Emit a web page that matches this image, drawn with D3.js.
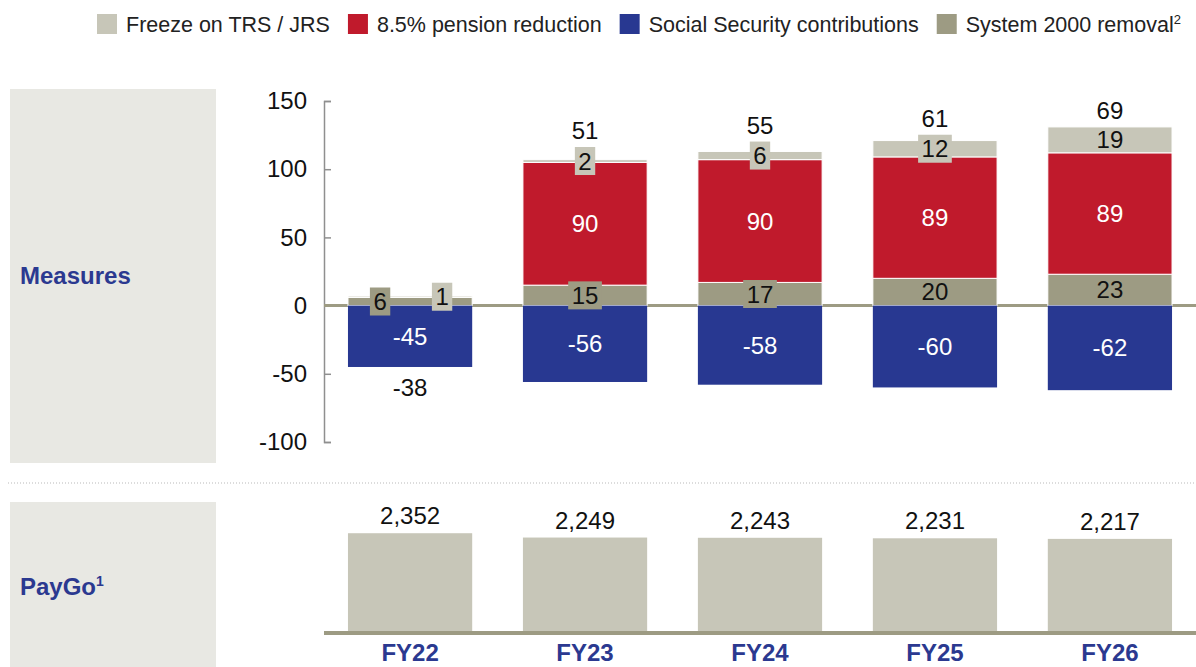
<!DOCTYPE html>
<html>
<head>
<meta charset="utf-8">
<script src="https://cdn.jsdelivr.net/npm/d3@7"></script>
<style>
  html, body { margin: 0; padding: 0; background: #fff; }
  svg { display: block; font-family: "Liberation Sans", Arial, sans-serif; }
</style>
</head>
<body>
<svg id="chart" width="1196" height="667"></svg>
<script>
// Fiscal years shown on the x axis
const categories = ["FY22", "FY23", "FY24", "FY25", "FY26"];

// Measures (stacked): positive pieces stack upward, social security goes below zero
const system2000 = [6, 15, 17, 20, 23];
const pensionCut = [0, 90, 90, 89, 89];
const freeze = [1, 2, 6, 12, 19];
const socialSecurity = [-45, -56, -58, -60, -62];
const measureTotals = [-38, 51, 55, 61, 69];

// PayGo amounts
const paygo = [2352, 2249, 2243, 2231, 2217];

// Axis ticks for the measures panel
const yTicks = [150, 100, 50, 0, -50, -100];

// Legend entries (order as drawn)
const legendLabels = ["Freeze on TRS / JRS", "8.5% pension reduction", "Social Security contributions", "System 2000 removal"];

const colors = {
  freeze: "#c7c6b8",
  pension: "#c01a2c",
  social: "#283891",
  system: "#9d9b83",
  panel: "#e8e8e3",
  label: "#2b3990",
  axis: "#8f8f8f"
};

// plain hyphen for negatives
const fmt = v => String(v);

const svg = d3.select("#chart");

// ---------- layout ----------
const plotLeft = 324, plotRight = 1196;
const x = d3.scaleBand().domain(categories).range([plotLeft, plotRight])
  .paddingInner(0.29).paddingOuter(0.137);

const y = d3.scaleLinear().domain([-100, 150]).range([442, 101]);
const yPay = d3.scaleLinear().domain([0, 2500]).range([632, 527]);

// ---------- side panels ----------
svg.append("rect").attr("x", 10).attr("y", 89).attr("width", 206).attr("height", 374).attr("fill", colors.panel);
svg.append("rect").attr("x", 10).attr("y", 502).attr("width", 206).attr("height", 170).attr("fill", colors.panel);

svg.append("text").attr("x", 20).attr("y", 284)
  .attr("font-size", 24).attr("font-weight", "bold").attr("fill", colors.label).text("Measures");
const pg = svg.append("text").attr("x", 20).attr("y", 595)
  .attr("font-size", 24).attr("font-weight", "bold").attr("fill", colors.label);
pg.append("tspan").text("PayGo");
pg.append("tspan").attr("font-size", 14).attr("dy", -9).text("1");

// dotted separator between panels
svg.append("line").attr("x1", 8).attr("x2", 1196).attr("y1", 483).attr("y2", 483)
  .attr("stroke", "#b9b9b9").attr("stroke-width", 1).attr("stroke-dasharray", "1,2");

// ---------- legend ----------
const legendColors = [colors.freeze, colors.pension, colors.social, colors.system];
const legend = svg.append("g");
let lx = 97;
legendLabels.forEach((lab, i) => {
  legend.append("rect").attr("x", lx).attr("y", 14).attr("width", 20).attr("height", 20).attr("fill", legendColors[i]);
  const t = legend.append("text").attr("x", lx + 29).attr("y", 32)
    .attr("font-size", 21.5).attr("fill", "#222").text(lab);
  if (i === 3) t.append("tspan").attr("font-size", 13).attr("dy", -8).text("2");
  lx += 29 + t.node().getComputedTextLength() + 18;
});

// ---------- y axis ----------
const yAxis = d3.axisLeft(y).tickValues(yTicks).tickSizeInner(-7).tickSizeOuter(-7).tickPadding(17)
  .tickFormat(fmt);
const gy = svg.append("g").attr("transform", `translate(${plotLeft},0)`).call(yAxis);
gy.select(".domain").attr("stroke", colors.axis).attr("stroke-width", 1.5);
gy.selectAll(".tick line").attr("stroke", colors.axis).attr("stroke-width", 1.5);
gy.selectAll(".tick text").attr("font-size", 24).attr("fill", "#111")
  .attr("font-family", "Liberation Sans, Arial, sans-serif");

// zero line
svg.append("line").attr("x1", plotLeft).attr("x2", plotRight).attr("y1", y(0)).attr("y2", y(0))
  .attr("stroke", colors.system).attr("stroke-width", 3);

// ---------- stacked bars ----------
const segs = [];
categories.forEach((c, i) => {
  let base = 0;
  [["system", system2000[i]], ["pension", pensionCut[i]], ["freeze", freeze[i]]].forEach(([k, v]) => {
    if (v > 0) segs.push({ cat: c, key: k, y0: base, y1: base + v, v });
    base += v;
  });
  segs.push({ cat: c, key: "social", y0: socialSecurity[i], y1: 0, v: socialSecurity[i] });
});

const bars = svg.append("g");
bars.selectAll("rect").data(segs).join("rect")
  .attr("x", d => x(d.cat))
  .attr("width", x.bandwidth())
  .attr("y", d => y(d.y1))
  .attr("height", d => y(d.y0) - y(d.y1))
  .attr("fill", d => colors[d.key])
  .attr("stroke", d => d.key === "social" ? "none" : "#fff")
  .attr("stroke-width", 1);

// segment labels; thin segments get a box in their own colour behind the number
const labels = svg.append("g");
const boxH = 28;
const topOfLabels = {};
categories.forEach(c => {
  const cs = segs.filter(s => s.cat === c);
  const boxed = cs.filter(s => y(s.y0) - y(s.y1) < 24);
  const mid = s => (y(s.y0) + y(s.y1)) / 2;
  // boxes that would collide vertically are spread sideways
  const crowded = s => boxed.some(o => o !== s && Math.abs(mid(o) - mid(s)) < boxH);
  cs.forEach(s => {
    const cx0 = x(c) + x.bandwidth() / 2;
    const cy = mid(s);
    const isBoxed = boxed.includes(s);
    let dx = 0;
    if (isBoxed && crowded(s)) dx = s.key === "system" ? -30 : 32;
    const cx = cx0 + dx;
    const g = labels.append("g");
    const t = g.append("text").attr("x", cx).attr("y", cy + 8.5)
      .attr("text-anchor", "middle").attr("font-size", 24)
      .attr("fill", (s.key === "pension" || s.key === "social") ? "#fff" : "#111")
      .text(fmt(s.v));
    if (isBoxed) {
      const w = t.node().getComputedTextLength() + 7;
      const by = cy - boxH / 2;
      g.insert("rect", "text").attr("x", cx - w / 2).attr("y", by).attr("width", w).attr("height", boxH)
        .attr("fill", colors[s.key]);
      topOfLabels[c] = Math.min(topOfLabels[c] ?? Infinity, by);
    }
  });
});

// totals above (or below) each stack
categories.forEach((c, i) => {
  const tot = measureTotals[i];
  const cx = x(c) + x.bandwidth() / 2;
  let ty;
  if (tot >= 0) {
    const top = y(system2000[i] + pensionCut[i] + freeze[i]);
    ty = Math.min(top, topOfLabels[c] ?? Infinity) - 8;
  } else {
    ty = y(socialSecurity[i]) + 29;
  }
  svg.append("text").attr("x", cx).attr("y", ty).attr("text-anchor", "middle")
    .attr("font-size", 24).attr("fill", "#111").text(fmt(tot));
});

// ---------- PayGo bars ----------
svg.append("g").selectAll("rect").data(paygo).join("rect")
  .attr("x", (d, i) => x(categories[i]))
  .attr("width", x.bandwidth())
  .attr("y", d => yPay(d))
  .attr("height", d => yPay(0) - yPay(d))
  .attr("fill", colors.freeze);

svg.append("g").selectAll("text").data(paygo).join("text")
  .attr("x", (d, i) => x(categories[i]) + x.bandwidth() / 2)
  .attr("y", d => yPay(d) - 9)
  .attr("text-anchor", "middle").attr("font-size", 24).attr("fill", "#111")
  .text(d => d3.format(",")(d));

svg.append("line").attr("x1", plotLeft).attr("x2", plotRight).attr("y1", yPay(0) + 1).attr("y2", yPay(0) + 1)
  .attr("stroke", colors.system).attr("stroke-width", 4);

// ---------- x axis labels ----------
const xAxis = d3.axisBottom(x).tickSize(0).tickPadding(0);
const gx = svg.append("g").attr("transform", `translate(0,${yPay(0) + 12})`).call(xAxis);
gx.select(".domain").remove();
gx.selectAll(".tick text").attr("font-size", 24).attr("font-weight", "bold").attr("fill", colors.label)
  .attr("font-family", "Liberation Sans, Arial, sans-serif");
</script>
</body>
</html>
